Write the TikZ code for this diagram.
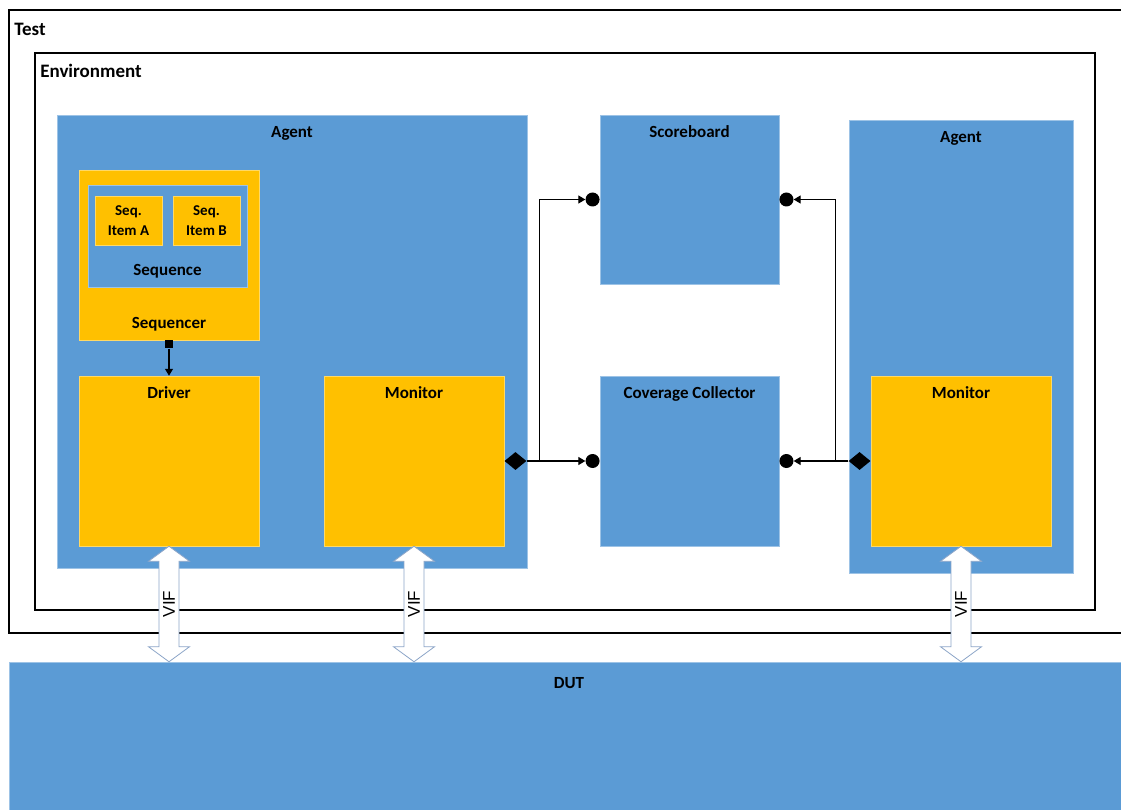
\documentclass[tikz,border=0pt]{standalone}
\usepackage{fontspec}
\setmainfont{Carlito}
\newfontfamily\viffont{Liberation Sans}
\usetikzlibrary{positioning,calc,shapes.geometric,arrows.meta}
\definecolor{uvmblue}{RGB}{91,155,213}
\definecolor{uvmyellow}{RGB}{255,192,0}
\definecolor{vifedge}{RGB}{140,165,200}
\tikzset{
frame/.style={draw,line width=1.8pt,inner sep=0},
blk/.style={fill=uvmblue,draw=uvmblue!60!white,line width=0.5pt,inner sep=0},
ylw/.style={fill=uvmyellow,draw=uvmyellow!60!white,line width=0.5pt,inner sep=0},
wh/.style 2 args={minimum width=#1pt,minimum height=#2pt},
lbl/.style={font=\bfseries\fontsize{17}{20}\selectfont,inner sep=0,anchor=base},
title/.style={font=\bfseries\fontsize{19}{22}\selectfont,inner sep=0,anchor=base west},
toplbl/.style={label={[lbl,yshift=-22.5pt]north:#1}},
botlbl/.style={label={[lbl,yshift=11.5pt]south:#1}},
item/.style={align=center,font=\bfseries\fontsize{15}{20}\selectfont},
port/.style={fill=black,inner sep=0},
conn/.style={line width=1.2pt,-{Triangle[length=7pt,width=8pt]}},
vif/.style={draw=vifedge,fill=white,line width=0.8pt},
viftxt/.style={font=\viffont\fontsize{17}{20}\selectfont,inner sep=0}
}
\begin{document}
\begin{tikzpicture}[x=1pt,y=-1pt]
    \useasboundingbox (0,0) rectangle (1121,810);
    \clip (0,0) rectangle (1121,810);
    % frames
    \node[frame,wh={1126}{623}] (test) at (572,321.5) {};
    \node[title] (testt) at ($(test.north west)+(6,26)$) {Test};
    \node[frame,wh={1060}{557}] (env) at (565,331.5) {};
    \node[title] (envt) at ($(env.north west)+(6,25)$) {Environment};

    % left agent
    \node[blk,wh={470}{453},toplbl=Agent] (agentL) at (292,341.5) {};
    \node[ylw,wh={180}{170},botlbl=Sequencer] (seqr) at (169,255) {};
    \node[blk,wh={159}{102},botlbl=Sequence] (seq) at (167.5,236) {};
    \node[ylw,wh={67}{49},item] (itemA) at (128.5,220.5) {Seq.\\Item A};
    \node[ylw,wh={67}{49},item] (itemB) at (206.5,220.5) {Seq.\\Item B};
    \node[ylw,wh={180}{170},toplbl=Driver] (drv) at (169,461) {};
    \node[ylw,wh={180}{170},toplbl=Monitor] (monL) at (414,461) {};

    % scoreboard, coverage
    \node[blk,wh={179}{169},toplbl=Scoreboard] (sb) at (689.5,199.5) {};
    \node[blk,wh={179}{170},toplbl=Coverage Collector] (cov) at (689.5,461) {};

    % right agent
    \node[blk,wh={224}{453},toplbl=Agent] (agentR) at (961,346.5) {};
    \node[ylw,wh={180}{170},toplbl=Monitor] (monR) at (961,461) {};

    % DUT
    \node[blk,wh={1120}{168},label={[lbl,yshift=-27pt]north:DUT}] (dut) at (569,746) {};

    % ports
    \node[port,diamond,wh={22}{18},anchor=west] (dL) at (monL.east) {};
    \node[port,diamond,wh={22}{18},anchor=east] (dR) at (monR.west) {};
    \node[port,circle,minimum size=14pt,anchor=east] (cSbL) at (sb.west) {};
    \node[port,circle,minimum size=14pt,anchor=east] (cCovL) at (cov.west) {};
    \node[port,circle,minimum size=14pt,anchor=west] (cSbR) at (sb.east) {};
    \node[port,circle,minimum size=14pt,anchor=west] (cCovR) at (cov.east) {};
    \node[port,wh={8}{8},anchor=north] (sqS) at (seqr.south) {};

    % connectors
    \draw[conn] (sqS) -- (drv);
    \draw[conn] (dL.east) -- ++(13,0) |- (cSbL);
    \draw[conn] (dL) -- (cCovL);
    \draw[conn] (dR.west) -- ++(-13,0) |- (cSbR);
    \draw[conn] (dR) -- (cCovR);

    % VIF
    \foreach \s in {drv,monL,monR}
    {
        \draw[vif] (\s.south) -- ++(20.5,15) -- ++(-10.5,0) -- ($(\s.south |- dut.north)+(10,-15)$) -- ++(10.5,0) -- (\s.south |- dut.north) -- ++(-20.5,-15) -- ++(10.5,0) -- ($(\s.south)+(-10,15)$) -- ++(-10.5,0) -- cycle;
        \node[viftxt,rotate=90] (vif-\s) at ($(\s.south)!0.5!(\s.south |- dut.north)$) {VIF};
    }
\end{tikzpicture}
\end{document}
